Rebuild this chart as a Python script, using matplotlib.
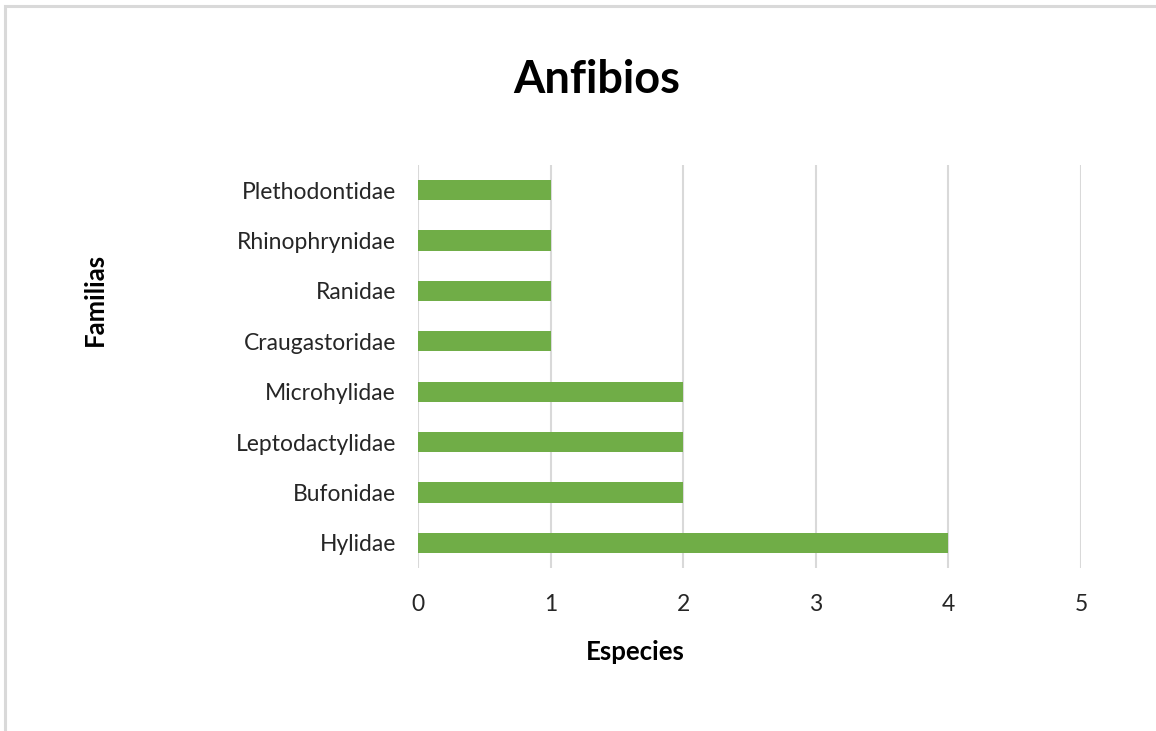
import matplotlib.pyplot as plt
import numpy as np
from matplotlib.patches import Rectangle

# Datos
familias = ['Hylidae', 'Bufonidae', 'Leptodactylidae', 'Microhylidae',
            'Craugastoridae', 'Ranidae', 'Rhinophrynidae', 'Plethodontidae']
especies = [4, 2, 2, 2, 1, 1, 1, 1]
xticks = [0, 1, 2, 3, 4, 5]

plt.rcParams['font.family'] = ['Lato', 'DejaVu Sans']

W, H = 1156, 731
fig = plt.figure(figsize=(W / 100, H / 100), dpi=100)
ax = fig.add_axes([418 / W, 1 - 568 / H, 663 / W, 403 / H])

# Borde del grafico (estilo Excel)
fig.patches.append(Rectangle((5 / W, -0.05), 1.2, 1 - 5.5 / H + 0.05,
                             transform=fig.transFigure, fill=False,
                             edgecolor='#D9D9D9', linewidth=2.2, zorder=0))

y = np.arange(len(familias))
ax.barh(y, especies, height=0.4, color='#70AD47', zorder=3)

ax.set_xlim(0, 5)
ax.set_ylim(-0.5, len(familias) - 0.5)
ax.set_xticks(xticks)
ax.set_xticklabels([str(t) for t in xticks])
ax.set_yticks(y)
ax.set_yticklabels(familias)

ax.grid(axis='x', color='#D9D9D9', linewidth=1.5, zorder=0)
ax.tick_params(axis='both', length=0, labelsize=16.5, colors='#262626')
ax.tick_params(axis='x', pad=19)
ax.tick_params(axis='y', pad=16)
for s in ax.spines.values():
    s.set_visible(False)

# Titulo y etiquetas de ejes
fig.text(597 / W, 1 - 93 / H, 'Anfibios', fontsize=32.5, fontweight='bold',
         ha='center', va='baseline', color='black')
fig.text(635 / W, 1 - 660 / H, 'Especies', fontsize=18.5, fontweight='bold',
         ha='center', va='baseline', color='black')
fig.text(95 / W, 1 - 299 / H, 'Familias', fontsize=18.5, fontweight='bold',
         ha='center', va='center', rotation=90, color='black')

plt.savefig('out.png', dpi=100)
